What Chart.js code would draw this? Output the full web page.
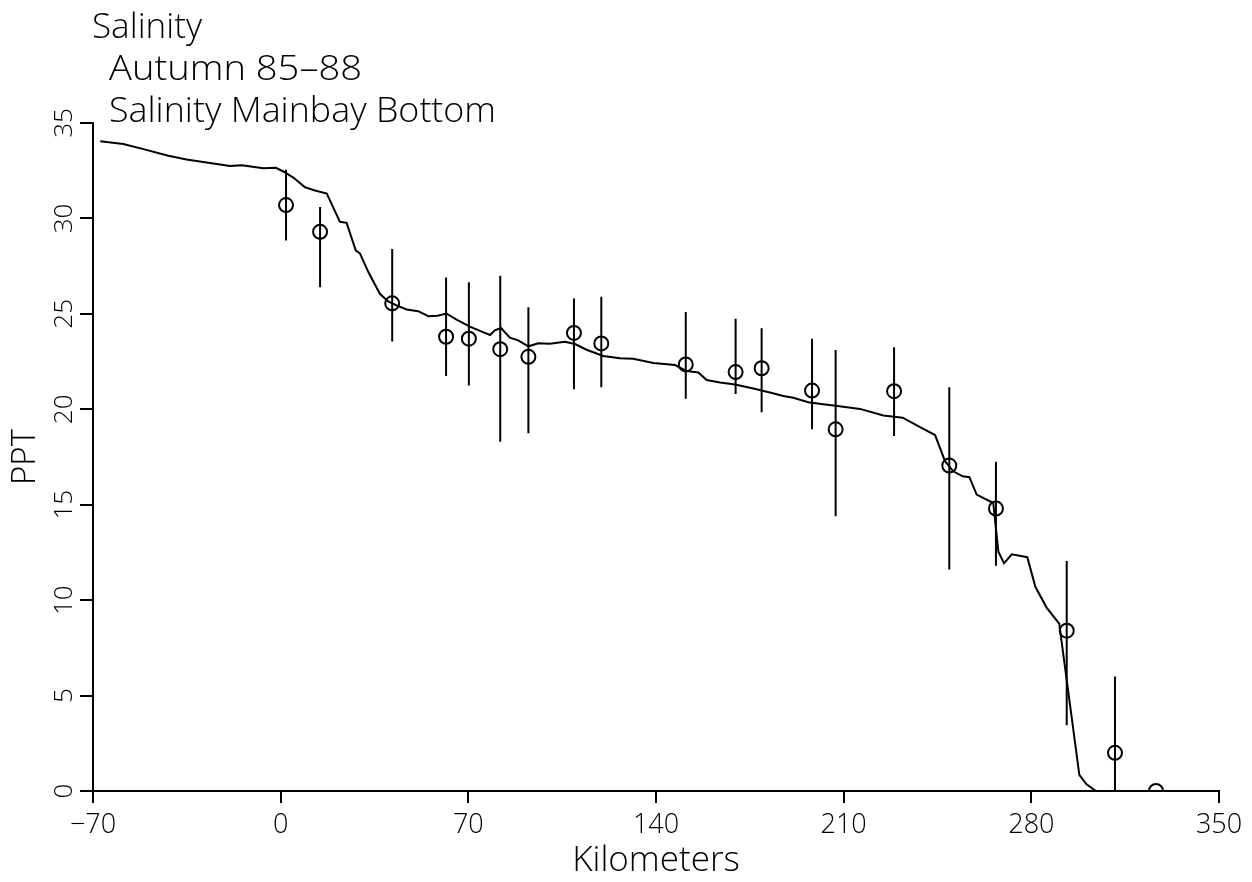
<!DOCTYPE html>
<html>
<head>
<meta charset="utf-8">
<title>Salinity Mainbay Bottom</title>
<script src="https://cdn.jsdelivr.net/npm/chart.js@4.4.1/dist/chart.umd.min.js"></script>
<style>
  html, body { margin: 0; padding: 0; background: #fff; }
  #wrap { width: 1252px; height: 882px; }
</style>
</head>
<body>
<div id="wrap"><canvas id="chart" width="1252" height="882"></canvas></div>
<script>
// model curve (bottom salinity along the main bay)
const curveKm = [-67.3, -58.7, -51.2, -41.9, -35.1, -26.4, -18.9, -14.5, -6.5, -1.8,
  1.0, 4.7, 9.1, 12.8, 17.2, 22.1, 24.6, 28.0, 29.6, 32.7, 37.0, 40.1, 43.3, 47.0,
  51.3, 55.1, 58.5, 61.8, 65.6, 70.6, 75.0, 78.1, 79.9, 82.2, 85.5, 88.6, 92.4,
  96.1, 100.4, 106.0, 109.8, 114.1, 120.3, 126.6, 131.5, 139.0, 147.1, 151.4,
  155.8, 158.9, 163.9, 169.5, 176.3, 182.5, 187.5, 191.2, 196.8, 202.4, 207.0,
  216.1, 224.8, 232.0, 238.5, 244.1, 247.8, 250.9, 254.4, 256.9, 259.6, 265.8,
  267.7, 269.8, 272.7, 278.5, 281.5, 285.7, 290.4, 297.9, 300.6, 304.1, 319.5];
const curvePpt = [34.04, 33.9, 33.63, 33.28, 33.09, 32.91, 32.75, 32.79, 32.63, 32.65,
  32.46, 32.14, 31.63, 31.46, 31.3, 29.82, 29.77, 28.33, 28.16, 27.19, 26.05, 25.65, 25.44, 25.23,
  25.14, 24.88, 24.9, 25.02, 24.7, 24.33, 24.07, 23.89, 24.14, 24.26, 23.75, 23.61, 23.3,
  23.46, 23.44, 23.54, 23.42, 23.12, 22.79, 22.68, 22.65, 22.42, 22.32, 22.0,
  21.93, 21.53, 21.4, 21.3, 21.09, 20.88, 20.7, 20.6, 20.37, 20.26, 20.18,
  20.02, 19.68, 19.56, 19.07, 18.65, 17.28, 16.75, 16.49, 16.44, 15.53, 15.09,
  12.54, 11.93, 12.4, 12.25, 10.7, 9.61, 8.77, 0.84, 0.35, 0, 0];

// observed station means with error bars
const stationKm = [2.0, 14.7, 41.6, 61.7, 70.2, 81.9, 92.4, 109.4, 119.6, 151.1,
  169.7, 179.4, 198.2, 207.0, 228.8, 249.4, 266.8, 293.2, 311.2, 326.5];
const stationMean = [30.7, 29.3, 25.55, 23.8, 23.7, 23.15, 22.75, 24.0, 23.45, 22.35,
  21.95, 22.15, 20.98, 18.95, 20.95, 17.05, 14.8, 8.4, 2.0, 0.0];
const errHigh = [32.55, 30.6, 28.4, 26.9, 26.65, 27.0, 25.35, 25.8, 25.9, 25.1,
  24.75, 24.25, 23.7, 23.1, 23.25, 21.15, 17.25, 12.05, 6.0, 0.0];
const errLow = [28.85, 26.4, 23.55, 21.75, 21.25, 18.3, 18.75, 21.05, 21.15, 20.55,
  20.8, 19.85, 18.95, 14.4, 18.6, 11.6, 11.8, 3.45, 0.0, 0.0];

const titleLines = ['Salinity', 'Autumn 85\u201388', 'Salinity Mainbay Bottom'];
const xTicks = [-70, 0, 70, 140, 210, 280, 350];
const yTicks = [0, 5, 10, 15, 20, 25, 30, 35];

const FONT = '"Open Sans", "DejaVu Sans", sans-serif';

const curveData = curveKm.map((x, i) => ({ x: x, y: curvePpt[i] }));
const pointData = stationKm.map((x, i) => ({ x: x, y: stationMean[i] }));
// one segment per station, broken by null gaps
const barData = [];
stationKm.forEach((x, i) => {
  barData.push({ x: x, y: errLow[i] }, { x: x, y: errHigh[i] }, { x: x, y: null });
});

// draw text stretched/squeezed to a given width
function fitText(ctx, text, x, y, width) {
  const w = ctx.measureText(text).width;
  ctx.save();
  ctx.translate(x, y);
  ctx.scale(width / w, 1);
  ctx.fillText(text, 0, 0);
  ctx.restore();
}

const titlePlugin = {
  id: 'stackedTitle',
  afterDraw(chart) {
    const ctx = chart.ctx;
    ctx.save();
    ctx.fillStyle = '#000';
    ctx.textBaseline = 'alphabetic';
    ctx.font = '300 35px ' + FONT;
    fitText(ctx, titleLines[0], 92, 38, 110);
    fitText(ctx, titleLines[1], 109, 80, 253);
    fitText(ctx, titleLines[2], 109, 122, 387);
    ctx.restore();
  }
};

new Chart(document.getElementById('chart'), {
  type: 'scatter',
  data: {
    datasets: [
      {
        type: 'line',
        data: curveData,
        borderColor: '#000',
        borderWidth: 2,
        pointRadius: 0,
        tension: 0,
        fill: false
      },
      {
        type: 'line',
        data: barData,
        borderColor: '#000',
        borderWidth: 2,
        pointRadius: 0,
        spanGaps: false,
        fill: false
      },
      {
        data: pointData,
        pointStyle: 'circle',
        pointRadius: 7,
        pointBorderWidth: 2,
        pointBackgroundColor: 'rgba(0,0,0,0)',
        pointBorderColor: '#000'
      }
    ]
  },
  options: {
    responsive: false,
    animation: false,
    events: [],
    layout: { padding: { top: 123, right: 33, left: 0, bottom: 0 } },
    plugins: {
      legend: { display: false },
      tooltip: { enabled: false }
    },
    scales: {
      x: {
        type: 'linear',
        min: -70,
        max: 350,
        afterBuildTicks: s => { s.ticks = xTicks.map(v => ({ value: v })); },
        afterFit: s => { s.height = 91; },
        grid: { drawOnChartArea: false, drawTicks: true, tickLength: 12, color: '#000', lineWidth: 2 },
        border: { display: true, color: '#000', width: 2 },
        ticks: { color: '#000', padding: 6, maxRotation: 0,
          callback: v => String(v).replace('-', '\u2212'),
          font: { family: FONT, size: 27, weight: '300' } },
        title: { display: true, text: 'Kilometers', color: '#000', padding: { top: 0, bottom: 0 },
          font: { family: FONT, size: 35, weight: '300' } }
      },
      y: {
        type: 'linear',
        min: 0,
        max: 35,
        afterBuildTicks: s => { s.ticks = yTicks.map(v => ({ value: v })); },
        afterFit: s => { s.width = 93; },
        grid: { drawOnChartArea: false, drawTicks: true, tickLength: 13, color: '#000', lineWidth: 2 },
        border: { display: true, color: '#000', width: 2 },
        ticks: { color: '#000', padding: 1, minRotation: 90, maxRotation: 90, crossAlign: 'center',
          font: { family: FONT, size: 26, weight: '300' } },
        title: { display: true, text: 'PPT', color: '#000', padding: { top: 6, bottom: 0 },
          font: { family: FONT, size: 33, weight: '300' } }
      }
    }
  },
  plugins: [titlePlugin]
});
</script>
</body>
</html>
